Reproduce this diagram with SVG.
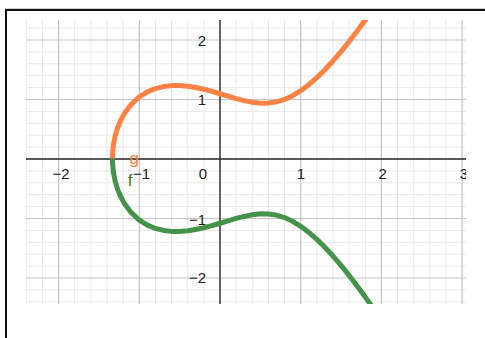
<svg xmlns="http://www.w3.org/2000/svg" width="485" height="338" viewBox="0 0 485 338">
<style>
.minor{stroke:#e8e8e8;stroke-width:1;fill:none}
.major{stroke:#c4c4c4;stroke-width:1.2;fill:none}
.axis{stroke:#222;stroke-width:1.4;fill:none}
.lbl{font-family:"Liberation Sans",Arial,sans-serif;font-size:15px;fill:#222}
.curve{fill:none;stroke-width:5;stroke-linejoin:round;stroke-linecap:butt}
.name{font-family:"Liberation Sans",Arial,sans-serif;font-size:17px}
</style>
<defs>
<clipPath id="plot"><rect x="26" y="20" width="440" height="284"/></clipPath>
</defs>
<rect x="0" y="0" width="485" height="338" fill="#fff"/>
<g id="frame">
<line x1="5" y1="8.5" x2="485" y2="8.5" stroke="#d0d0d0" stroke-width="1"/>
<line x1="5" y1="10" x2="485" y2="10" stroke="#111" stroke-width="2"/>
<line x1="6" y1="9" x2="6" y2="338" stroke="#111" stroke-width="2"/>
</g>
<g id="grid">
<path class="minor" d="M26.32 20V304M42.46 20V304M74.74 20V304M90.88 20V304M107.02 20V304M123.16 20V304M155.44 20V304M171.58 20V304M187.72 20V304M203.86 20V304M236.14 20V304M252.28 20V304M268.42 20V304M284.56 20V304M316.84 20V304M332.98 20V304M349.12 20V304M365.26 20V304M397.54 20V304M413.68 20V304M429.82 20V304M445.96 20V304M26 28.1H466M26 51.9H466M26 63.8H466M26 75.7H466M26 87.6H466M26 111.4H466M26 123.3H466M26 135.2H466M26 147.1H466M26 170.9H466M26 182.8H466M26 194.7H466M26 206.6H466M26 230.4H466M26 242.3H466M26 254.2H466M26 266.1H466M26 289.9H466M26 301.8H466"/>
<path class="major" d="M58.6 20V304M139.3 20V304M300.7 20V304M381.4 20V304M462.1 20V304M26 40H466M26 99.5H466M26 218.5H466M26 278H466"/>
</g>
<g id="axes">
<line class="axis" x1="26" y1="159" x2="466" y2="159"/>
<line class="axis" x1="220" y1="20" x2="220" y2="304"/>
</g>
<g id="tick-labels" clip-path="url(#plot)">
<text class="lbl" x="61" y="178.5" text-anchor="middle">−2</text>
<text class="lbl" x="133" y="178.5">−1</text>
<text class="lbl" x="207" y="178.5" text-anchor="end">0</text>
<text class="lbl" x="301" y="178.5" text-anchor="middle">1</text>
<text class="lbl" x="382.7" y="178.5" text-anchor="middle">2</text>
<text class="lbl" x="464" y="178.5" text-anchor="middle">3</text>
<text class="lbl" x="206" y="45.5" text-anchor="end">2</text>
<text class="lbl" x="206" y="104.5" text-anchor="end">1</text>
<text class="lbl" x="206" y="224.5" text-anchor="end">−1</text>
<text class="lbl" x="206" y="282.5" text-anchor="end">−2</text>
</g>
<g id="curves" clip-path="url(#plot)">
<polyline id="g-curve" class="curve" stroke="#ff8144" points="112.47,158.5 112.67,152.24 113.48,144.57 115.09,136.23 117.51,128.04 120.74,120.21 124.77,112.89 131.23,104.34 139.3,96.92 147.37,91.89 155.44,88.56 163.51,86.56 171.58,85.62 179.65,85.56 187.72,86.24 195.79,87.52 203.86,89.28 211.93,91.4 220,93.76 228.07,96.2 236.14,98.57 244.21,100.66 252.28,102.27 260.35,103.15 268.42,103.07 276.49,101.86 284.56,99.4 292.63,95.68 300.7,90.74 308.77,84.68 316.84,77.62 324.91,69.69 332.98,60.98 341.05,51.59 349.12,41.59 357.19,31.04 365.26,19.98 373.33,8.48"/>
<polyline id="f-curve" class="curve" stroke="#45924a" points="112.47,158.5 112.67,164.76 113.48,172.43 115.09,180.77 117.51,188.96 120.74,196.79 124.77,204.11 131.23,212.66 139.3,220.08 147.37,225.11 155.44,228.44 163.51,230.44 171.58,231.38 179.65,231.44 187.72,230.76 195.79,229.48 203.86,227.72 211.93,225.6 220,223.24 228.07,220.8 236.14,218.43 244.21,216.34 252.28,214.73 260.35,213.85 268.42,213.93 276.49,215.14 284.56,217.6 292.63,221.32 300.7,226.26 308.77,232.32 316.84,239.38 324.91,247.31 332.98,256.02 341.05,265.41 349.12,275.41 357.19,285.96 365.26,297.02 373.33,308.52"/>
</g>
<g id="curve-labels">
<text class="name" x="134.3" y="163.5" text-anchor="middle" fill="#ff7f40">g</text>
<text class="name" x="130" y="186" text-anchor="middle" fill="#2e7d32">f</text>
</g>
</svg>
